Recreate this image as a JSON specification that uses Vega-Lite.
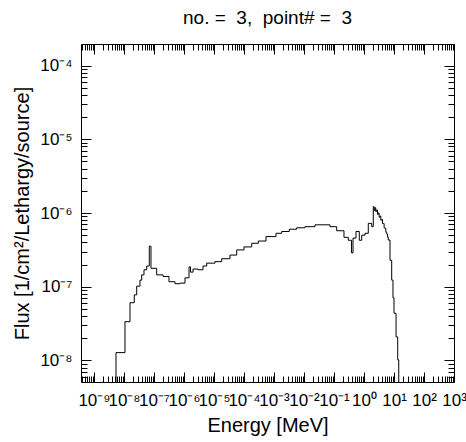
{
  "$schema": "https://vega.github.io/schema/vega-lite/v6.json",
  "width": 373,
  "height": 338,
  "autosize": {"type": "none"},
  "padding": {"left": 81, "top": 44, "right": 12, "bottom": 60},
  "title": {"text": "no. =\u00a0 3,\u00a0 point# =\u00a0 3", "fontSize": 19, "font": "Liberation Sans", "fontWeight": "normal", "offset": 16, "color": "#000"},
  "data": {"values": [
    {"E": 1.585e-9, "F": 1e-10},
    {"E": 5.41e-9, "F": 1.28e-8},
    {"E": 1.08e-8, "F": 3.36e-8},
    {"E": 1.585e-8, "F": 6.08e-8},
    {"E": 2.2e-8, "F": 7.76e-8},
    {"E": 2.65e-8, "F": 1.02e-7},
    {"E": 3.41e-8, "F": 1.23e-7},
    {"E": 3.89e-8, "F": 1.45e-7},
    {"E": 4.64e-8, "F": 1.7e-7},
    {"E": 5.71e-8, "F": 1.91e-7},
    {"E": 6.97e-8, "F": 3.55e-7},
    {"E": 7.94e-8, "F": 1.78e-7},
    {"E": 1.23e-7, "F": 1.45e-7},
    {"E": 2.0e-7, "F": 1.38e-7},
    {"E": 3.16e-7, "F": 1.17e-7},
    {"E": 5.01e-7, "F": 1.1e-7},
    {"E": 7.36e-7, "F": 1.12e-7},
    {"E": 1.08e-6, "F": 1.32e-7},
    {"E": 1.47e-6, "F": 1.86e-7},
    {"E": 1.65e-6, "F": 1.58e-7},
    {"E": 2.0e-6, "F": 1.74e-7},
    {"E": 2.93e-6, "F": 1.7e-7},
    {"E": 4.3e-6, "F": 1.91e-7},
    {"E": 5.71e-6, "F": 2.09e-7},
    {"E": 1.08e-5, "F": 2.19e-7},
    {"E": 1.81e-5, "F": 2.4e-7},
    {"E": 3.41e-5, "F": 2.69e-7},
    {"E": 5.71e-5, "F": 3.16e-7},
    {"E": 1.0e-4, "F": 3.47e-7},
    {"E": 1.81e-4, "F": 3.89e-7},
    {"E": 3.0e-4, "F": 4.17e-7},
    {"E": 5.41e-4, "F": 4.79e-7},
    {"E": 1.17e-3, "F": 5.31e-7},
    {"E": 1.81e-3, "F": 5.62e-7},
    {"E": 3.24e-3, "F": 6.03e-7},
    {"E": 5.71e-3, "F": 6.31e-7},
    {"E": 1.08e-2, "F": 6.53e-7},
    {"E": 2.33e-2, "F": 6.92e-7},
    {"E": 7.36e-2, "F": 6.53e-7},
    {"E": 0.123, "F": 5.75e-7},
    {"E": 0.215, "F": 4.68e-7},
    {"E": 0.3, "F": 4.27e-7},
    {"E": 0.383, "F": 2.88e-7},
    {"E": 0.43, "F": 4.57e-7},
    {"E": 0.541, "F": 5.62e-7},
    {"E": 0.697, "F": 4.27e-7},
    {"E": 0.838, "F": 5.01e-7},
    {"E": 1.08, "F": 5.31e-7},
    {"E": 1.39, "F": 7.24e-7},
    {"E": 1.81, "F": 6.53e-7},
    {"E": 2.04, "F": 1.22e-6},
    {"E": 2.19, "F": 1.08e-6},
    {"E": 2.33, "F": 1.18e-6},
    {"E": 2.47, "F": 1.05e-6},
    {"E": 2.65, "F": 1.1e-6},
    {"E": 2.82, "F": 9.6e-7},
    {"E": 3.0, "F": 1.0e-6},
    {"E": 3.19, "F": 8.8e-7},
    {"E": 3.41, "F": 9.1e-7},
    {"E": 3.63, "F": 8.0e-7},
    {"E": 3.89, "F": 8.2e-7},
    {"E": 4.14, "F": 7.2e-7},
    {"E": 4.4, "F": 7.2e-7},
    {"E": 4.68, "F": 6.3e-7},
    {"E": 5.01, "F": 6.2e-7},
    {"E": 5.33, "F": 5.5e-7},
    {"E": 5.71, "F": 5.2e-7},
    {"E": 6.07, "F": 4.7e-7},
    {"E": 6.46, "F": 4.3e-7},
    {"E": 7.36, "F": 2.29e-7},
    {"E": 8.38, "F": 1.23e-7},
    {"E": 9.26, "F": 7.08e-8},
    {"E": 10.0, "F": 4.37e-8},
    {"E": 11.7, "F": 2.09e-8},
    {"E": 13.3, "F": 1.02e-8},
    {"E": 14.4, "F": 1e-10},
    {"E": 34.1, "F": 1e-10}
  ]},
  "layer": [
    {
      "mark": {"type": "line", "interpolate": "step-after", "clip": true, "color": "#000", "strokeWidth": 1},
      "encoding": {
        "x": {"field": "E", "type": "quantitative", "scale": {"type": "log", "domain": [3.69e-10, 1000], "nice": false},
          "axis": {"orient": "bottom", "title": "Energy [MeV]", "titlePadding": 3, "labelPadding": 20, "labelDx": 1,
            "values": [4e-10,5e-10,6e-10,7e-10,8e-10,9e-10,1e-9,2e-9,3e-9,4e-9,5e-9,6e-9,7e-9,8e-9,9e-9,1e-8,2e-8,3e-8,4e-8,5e-8,6e-8,7e-8,8e-8,9e-8,1e-7,2e-7,3e-7,4e-7,5e-7,6e-7,7e-7,8e-7,9e-7,1e-6,2e-6,3e-6,4e-6,5e-6,6e-6,7e-6,8e-6,9e-6,1e-5,2e-5,3e-5,4e-5,5e-5,6e-5,7e-5,8e-5,9e-5,1e-4,2e-4,3e-4,4e-4,5e-4,6e-4,7e-4,8e-4,9e-4,0.001,0.002,0.003,0.004,0.005,0.006,0.007,0.008,0.009,0.01,0.02,0.03,0.04,0.05,0.06,0.07,0.08,0.09,0.1,0.2,0.3,0.4,0.5,0.6,0.7,0.8,0.9,1,2,3,4,5,6,7,8,9,10,20,30,40,50,60,70,80,90,100,200,300,400,500,600,700,800,900,1000],
            "tickSize": {"expr": "abs(log(datum.value)/LN10 - round(log(datum.value)/LN10)) < 0.001 ? -10 : -6"},
            "labelExpr": "abs(log(datum.value)/LN10 - round(log(datum.value)/LN10)) < 0.001 ? ['10⁻⁹','10⁻⁸','10⁻⁷','10⁻⁶','10⁻⁵','10⁻⁴','10⁻³','10⁻²','10⁻¹','10⁰','10¹','10²','10³'][round(log(datum.value)/LN10)+9] : ''"}},
        "y": {"field": "F", "type": "quantitative", "scale": {"type": "log", "domain": [5.11e-9, 1.96e-4], "nice": false},
          "axis": {"orient": "left", "title": "Flux [1/cm²/Lethargy/source]", "titlePadding": 7, "labelPadding": 19,
            "values": [6e-9,7e-9,8e-9,9e-9,1e-8,2e-8,3e-8,4e-8,5e-8,6e-8,7e-8,8e-8,9e-8,1e-7,2e-7,3e-7,4e-7,5e-7,6e-7,7e-7,8e-7,9e-7,1e-6,2e-6,3e-6,4e-6,5e-6,6e-6,7e-6,8e-6,9e-6,1e-5,2e-5,3e-5,4e-5,5e-5,6e-5,7e-5,8e-5,9e-5,1e-4],
            "tickSize": {"expr": "abs(log(datum.value)/LN10 - round(log(datum.value)/LN10)) < 0.001 ? -10 : -6"},
            "labelExpr": "abs(log(datum.value)/LN10 - round(log(datum.value)/LN10)) < 0.001 ? ['10⁻⁸','10⁻⁷','10⁻⁶','10⁻⁵','10⁻⁴'][round(log(datum.value)/LN10)+8] : ''"}}
      }
    },
    {
      "mark": {"type": "line", "interpolate": "step-after", "clip": true, "opacity": 0},
      "encoding": {
        "x": {"field": "E", "type": "quantitative", "scale": {"type": "log", "domain": [3.69e-10, 1000], "nice": false},
          "axis": {"orient": "top", "title": null, "labels": false,
            "values": [4e-10,5e-10,6e-10,7e-10,8e-10,9e-10,1e-9,2e-9,3e-9,4e-9,5e-9,6e-9,7e-9,8e-9,9e-9,1e-8,2e-8,3e-8,4e-8,5e-8,6e-8,7e-8,8e-8,9e-8,1e-7,2e-7,3e-7,4e-7,5e-7,6e-7,7e-7,8e-7,9e-7,1e-6,2e-6,3e-6,4e-6,5e-6,6e-6,7e-6,8e-6,9e-6,1e-5,2e-5,3e-5,4e-5,5e-5,6e-5,7e-5,8e-5,9e-5,1e-4,2e-4,3e-4,4e-4,5e-4,6e-4,7e-4,8e-4,9e-4,0.001,0.002,0.003,0.004,0.005,0.006,0.007,0.008,0.009,0.01,0.02,0.03,0.04,0.05,0.06,0.07,0.08,0.09,0.1,0.2,0.3,0.4,0.5,0.6,0.7,0.8,0.9,1,2,3,4,5,6,7,8,9,10,20,30,40,50,60,70,80,90,100,200,300,400,500,600,700,800,900,1000],
            "tickSize": {"expr": "abs(log(datum.value)/LN10 - round(log(datum.value)/LN10)) < 0.001 ? -10 : -6"}}},
        "y": {"field": "F", "type": "quantitative", "scale": {"type": "log", "domain": [5.11e-9, 1.96e-4], "nice": false},
          "axis": {"orient": "right", "title": null, "labels": false,
            "values": [6e-9,7e-9,8e-9,9e-9,1e-8,2e-8,3e-8,4e-8,5e-8,6e-8,7e-8,8e-8,9e-8,1e-7,2e-7,3e-7,4e-7,5e-7,6e-7,7e-7,8e-7,9e-7,1e-6,2e-6,3e-6,4e-6,5e-6,6e-6,7e-6,8e-6,9e-6,1e-5,2e-5,3e-5,4e-5,5e-5,6e-5,7e-5,8e-5,9e-5,1e-4],
            "tickSize": {"expr": "abs(log(datum.value)/LN10 - round(log(datum.value)/LN10)) < 0.001 ? -10 : -6"}}}
      }
    }
  ],
  "resolve": {"axis": {"x": "independent", "y": "independent"}},
  "config": {
    "view": {"stroke": "#000", "strokeWidth": 1},
    "axis": {"domain": false, "grid": false, "tickColor": "#000", "tickWidth": 1,
      "labelFont": "Liberation Sans", "labelFontSize": 17, "labelColor": "#000",
      "titleFont": "Liberation Sans", "titleFontSize": 20, "titleFontWeight": "normal", "titleColor": "#000",
      "labelOverlap": false, "labelFlush": false, "labelBound": false}
  }
}
